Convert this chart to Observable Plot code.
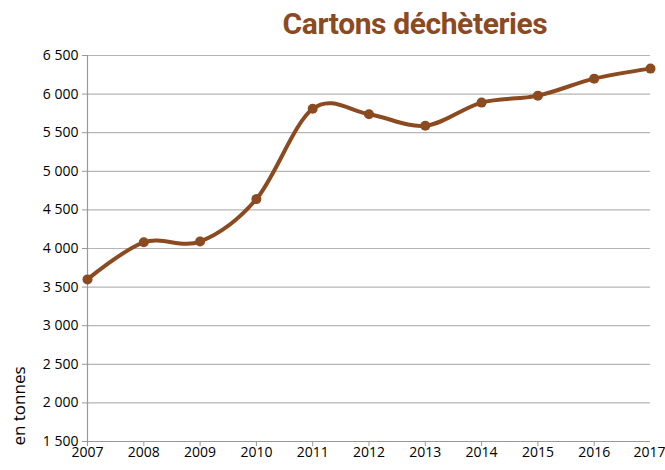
<!DOCTYPE html>
<html><head><meta charset="utf-8">
<script src="https://cdn.jsdelivr.net/npm/d3@7"></script>
<script src="https://cdn.jsdelivr.net/npm/@observablehq/plot@0.6"></script>
<style>
html,body{margin:0;padding:0;background:#fff;}
#wrap{position:relative;width:665px;height:470px;}
#title{position:absolute;left:0;top:6px;width:830px;text-align:center;font-family:Roboto,sans-serif;font-weight:700;font-size:30px;color:#8B4A1F;letter-spacing:-0.4px;}
#ylab{position:absolute;left:18px;top:406px;transform:translate(-50%,-50%) rotate(-90deg);font-family:"Open Sans",sans-serif;font-size:17px;color:#000;white-space:nowrap;}
</style></head>
<body><div id="wrap"><div id="title">Cartons déchèteries</div><div id="ylab">en tonnes</div></div>
<script>
const years = [2007,2008,2009,2010,2011,2012,2013,2014,2015,2016,2017];
const values = [3600,4080,4090,4640,5810,5740,5590,5890,5980,6200,6330];
const yTicks = [1500,2000,2500,3000,3500,4000,4500,5000,5500,6000,6500];
const title = "Cartons déchèteries";
const yLabel = "en tonnes";

const data = years.map((y,i)=>({year:y, value:values[i]}));
const fmt = d3.formatLocale({decimal:",", thousands:"\u00a0", grouping:[3], currency:["","€"]}).format(",");
const brown = "#8B4A1F";
const lastYear = years[years.length-1];

const chart = Plot.plot({
  width:665, height:470,
  marginLeft:87, marginRight:15, marginTop:55, marginBottom:29,
  style:{fontFamily:"'Open Sans',sans-serif", fontSize:"14px", color:"#000", background:"transparent"},
  x:{domain:[2007,2017], ticks:years, tickFormat:d=>String(d)},
  y:{domain:[1500,6500], ticks:yTicks, tickFormat:fmt},
  marks:[
    Plot.gridY(yTicks,{stroke:"#b5b5b5", strokeOpacity:1, strokeWidth:1.2}),
    Plot.ruleX([2007],{stroke:"#999", strokeWidth:1.2}),
    Plot.ruleY([1500],{stroke:"#999", strokeWidth:1.2}),
    Plot.axisY(yTicks,{tickSize:5, tickPadding:4, stroke:"#999", tickFormat:fmt, label:null}),
    Plot.axisX(years.slice(0,-1),{tickSize:5, tickPadding:1, stroke:"#999", tickFormat:d=>String(d), label:null}),
    Plot.axisX([lastYear],{tickSize:5, tickPadding:1, stroke:"#999", tickFormat:d=>String(d), label:null, textAnchor:"end", dx:15}),
    Plot.line(data,{x:"year", y:"value", stroke:brown, strokeWidth:4, curve:"cardinal"}),
    Plot.dot(data,{x:"year", y:"value", fill:brown, r:5})
  ]
});
document.getElementById("wrap").appendChild(chart);
chart.style.position="absolute"; chart.style.left="0"; chart.style.top="0";
document.getElementById("title").textContent = title;
document.getElementById("ylab").textContent = yLabel;
</script></body></html>
